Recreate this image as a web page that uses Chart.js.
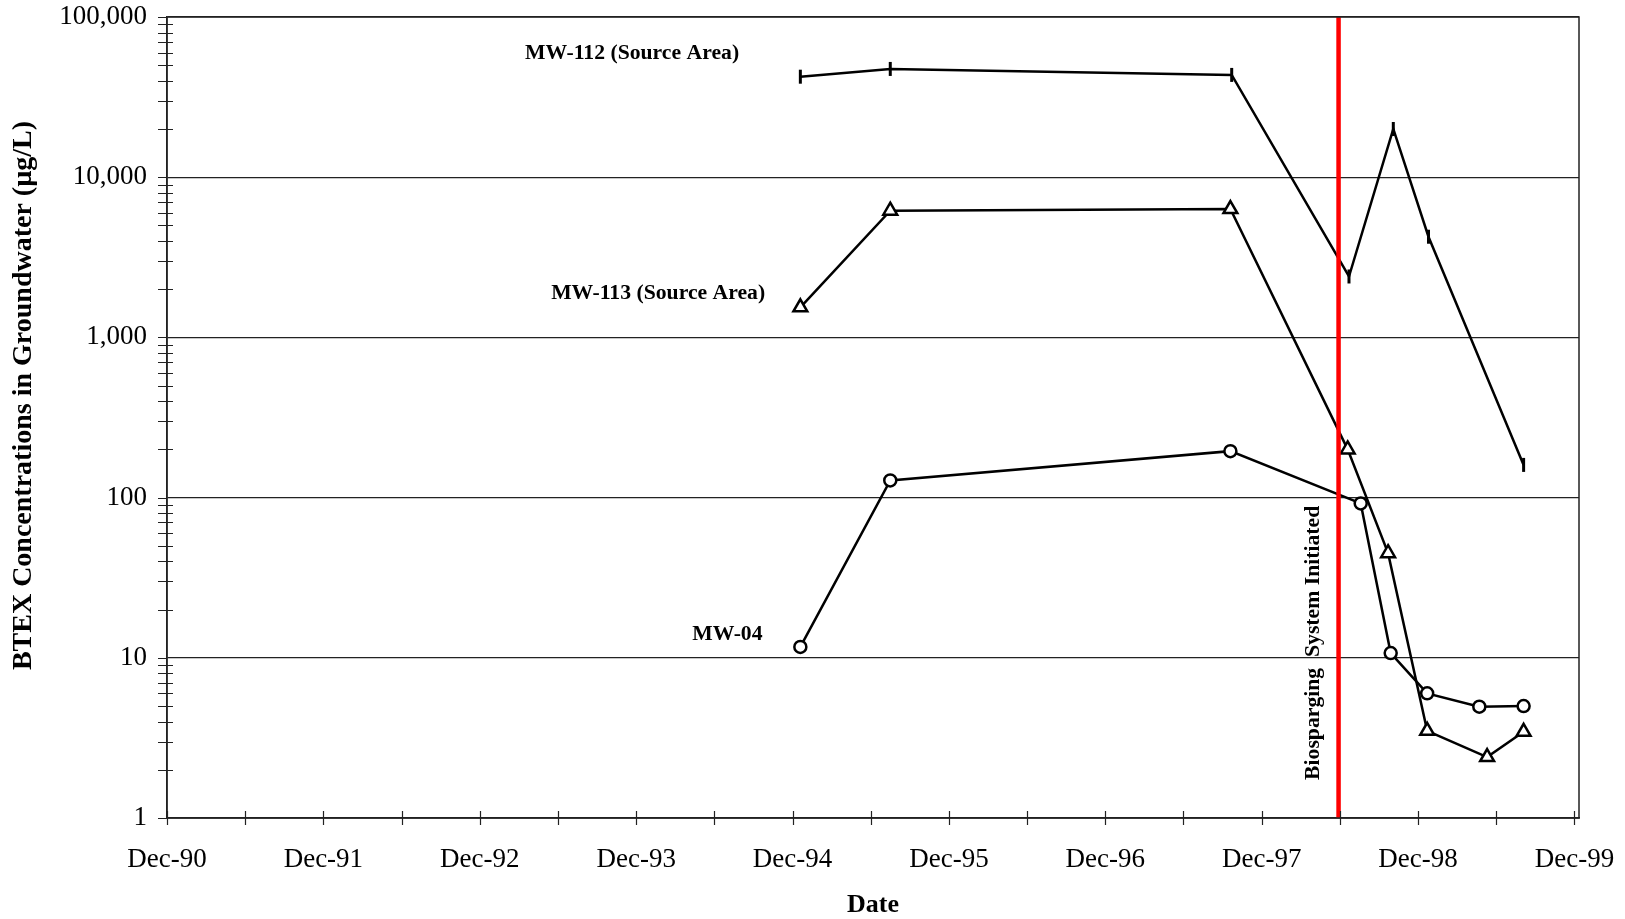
<!DOCTYPE html>
<html lang="en">
<head>
    <meta charset="UTF-8">
    <title>BTEX Concentrations</title>
    <script src="https://cdn.jsdelivr.net/npm/chart.js"></script>
    <style>
        html, body { margin: 0; padding: 0; background: #fff; }
        #wrap { width: 1625px; height: 919px; }
    </style>
</head>
<body>
<div id="wrap"><canvas id="btexChart" width="1625" height="919"></canvas></div>

<script>
// x values are months after Dec-1990
const tickMonths = [0, 6, 12, 18, 24, 30, 36, 42, 48, 54, 60, 66, 72, 78, 84, 90, 96, 102, 108];
const yearLabels = ['Dec-90', 'Dec-91', 'Dec-92', 'Dec-93', 'Dec-94', 'Dec-95', 'Dec-96', 'Dec-97', 'Dec-98', 'Dec-99'];
const yMajors = [1, 10, 100, 1000, 10000, 100000];

const months112 = [48.6, 55.5, 81.7, 90.7, 94.1, 96.8, 104.1];
const mw112 = [42400, 47400, 43500, 2400, 20000, 4250, 160];

const months113 = [48.6, 55.5, 81.6, 90.6, 93.7, 96.7, 101.3, 104.1];
const mw113 = [1540, 6180, 6330, 200, 45, 3.5, 2.4, 3.45];

const months04 = [48.6, 55.5, 81.6, 91.6, 93.9, 96.7, 100.7, 104.1];
const mw04 = [11.7, 128, 195, 92, 10.7, 6.0, 4.95, 5.0];

const biospargeMonth = 89.9;

// text labels: [text, month, value]
const seriesLabels = [
    ['MW-112 (Source Area)', 43.9, 59600],
    ['MW-113 (Source Area)', 45.9, 1890],
    ['MW-04', 45.7, 13.9]
];
const biospargeLabel = ['Biosparging  System Initiated', 88.0, 12.4];

const serif = "'Liberation Serif', 'Times New Roman', serif";

function pts(xs, ys) {
    return xs.map((x, i) => ({x: x, y: ys[i]}));
}

function noOverflow(scale) {
    scale.paddingTop = 0;
    scale.paddingBottom = 0;
    scale.paddingLeft = 0;
    scale.paddingRight = 0;
}

const frameAndTicks = {
    id: 'frameAndTicks',
    afterDatasetsDraw(chart) {
        const {ctx, chartArea: a, scales: {x, y}} = chart;
        ctx.save();
        ctx.strokeStyle = '#222';
        ctx.lineWidth = 1.5;
        ctx.strokeRect(a.left, a.top, a.right - a.left, a.bottom - a.top);
        ctx.lineWidth = 1.2;
        ctx.beginPath();
        x.ticks.forEach(t => {
            const px = Math.round(x.getPixelForValue(t.value)) + 0.5;
            ctx.moveTo(px, a.bottom - 7);
            ctx.lineTo(px, a.bottom + 7);
        });
        y.ticks.forEach(t => {
            const py = Math.round(y.getPixelForValue(t.value)) + 0.5;
            ctx.moveTo(a.left - 9, py);
            ctx.lineTo(a.left + (yMajors.includes(t.value) ? 0 : 6), py);
        });
        ctx.stroke();
        ctx.restore();
    },
    afterDraw(chart) {
        const {ctx, chartArea: a, scales: {x, y}} = chart;
        ctx.save();
        ctx.fillStyle = '#000';
        ctx.font = 'bold 21.7px ' + serif;
        ctx.textAlign = 'right';
        ctx.textBaseline = 'middle';
        seriesLabels.forEach(l => {
            ctx.fillText(l[0], x.getPixelForValue(l[1]), y.getPixelForValue(l[2]));
        });

        ctx.save();
        ctx.translate(x.getPixelForValue(biospargeLabel[1]), y.getPixelForValue(biospargeLabel[2]));
        ctx.rotate(-Math.PI / 2);
        ctx.textAlign = 'center';
        ctx.fillText(biospargeLabel[0], 0, 0);
        ctx.restore();

        // y axis title
        ctx.save();
        ctx.translate(24, (a.top + a.bottom) / 2 - 22);
        ctx.rotate(-Math.PI / 2);
        ctx.textAlign = 'center';
        ctx.font = 'bold 28px ' + serif;
        ctx.fillText('BTEX Concentrations in Groundwater (\u00b5g/L)', 0, 0);
        ctx.restore();
        ctx.restore();
    }
};

const ctx = document.getElementById('btexChart').getContext('2d');
const chart = new Chart(ctx, {
    type: 'line',
    data: {
        datasets: [{
            label: 'Biosparging System Initiated',
            data: [{x: biospargeMonth, y: 1}, {x: biospargeMonth, y: 100000}],
            borderColor: '#ff0000',
            borderWidth: 4.5,
            pointRadius: 0
        }, {
            label: 'MW-112 (Source Area)',
            data: pts(months112, mw112),
            borderColor: '#000',
            borderWidth: 2.5,
            pointStyle: 'line',
            rotation: 90,
            pointRadius: 7,
            pointBorderWidth: 3,
            pointBorderColor: '#000'
        }, {
            label: 'MW-113 (Source Area)',
            data: pts(months113, mw113),
            borderColor: '#000',
            borderWidth: 2.5,
            pointStyle: 'triangle',
            pointRadius: 8,
            pointBorderWidth: 2.5,
            pointBorderColor: '#000',
            pointBackgroundColor: '#fff'
        }, {
            label: 'MW-04',
            data: pts(months04, mw04),
            borderColor: '#000',
            borderWidth: 2.5,
            pointStyle: 'circle',
            pointRadius: 6,
            pointBorderWidth: 2.5,
            pointBorderColor: '#000',
            pointBackgroundColor: '#fff'
        }]
    },
    options: {
        responsive: false,
        animation: false,
        layout: {padding: {top: 17, right: 46, left: 0, bottom: 0}},
        plugins: {
            legend: {display: false},
            tooltip: {enabled: false}
        },
        elements: {line: {tension: 0}},
        scales: {
            x: {
                type: 'linear',
                min: 0,
                max: 108.35,
                afterBuildTicks: scale => {
                    scale.ticks = tickMonths.map(v => ({value: v}));
                },
                afterFit: scale => { scale.height = 101; noOverflow(scale); },
                ticks: {
                    autoSkip: false,
                    maxRotation: 0,
                    padding: 26,
                    color: '#000',
                    font: {family: serif, size: 27},
                    callback: v => (v % 12 === 0 ? yearLabels[v / 12] : '')
                },
                grid: {drawOnChartArea: false, drawTicks: false},
                border: {display: true, color: '#222', width: 1.5},
                title: {
                    display: true,
                    text: 'Date',
                    color: '#000',
                    font: {family: serif, size: 26, weight: 'bold', lineHeight: 1.2},
                    padding: {top: 0, bottom: -2}
                }
            },
            y: {
                type: 'logarithmic',
                min: 1,
                max: 100000,
                afterBuildTicks: scale => {
                    const list = [];
                    yMajors.forEach(m => {
                        if (m === 100000) { list.push({value: m}); return; }
                        for (let k = 1; k < 10; k++) list.push({value: m * k});
                    });
                    scale.ticks = list;
                },
                afterFit: scale => { scale.width = 167; noOverflow(scale); },
                ticks: {
                    autoSkip: false,
                    padding: 20,
                    color: '#000',
                    font: {family: serif, size: 27},
                    callback: v => (yMajors.includes(v) ? v.toLocaleString('en-US') : '')
                },
                grid: {
                    drawTicks: false,
                    lineWidth: 1.2,
                    color: c => (c.tick && yMajors.includes(c.tick.value) ? '#222' : 'rgba(0,0,0,0)')
                },
                border: {display: true, color: '#222', width: 1.5}
            }
        }
    },
    plugins: [frameAndTicks]
});
</script>
</body>
</html>
